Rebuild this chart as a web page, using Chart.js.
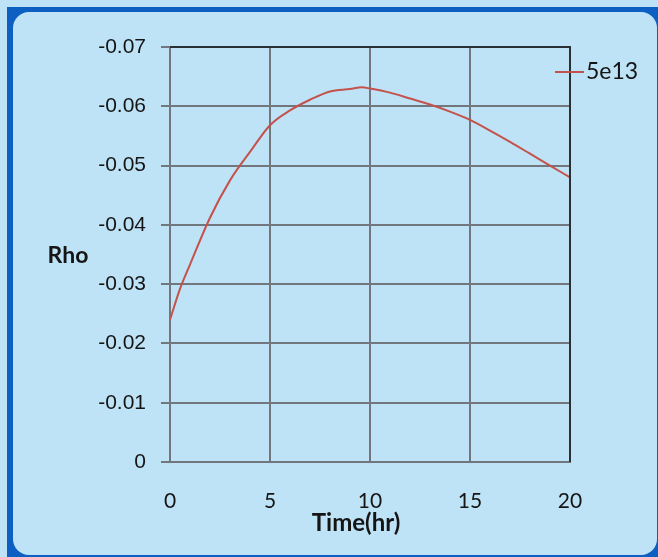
<!DOCTYPE html>
<html>
<head>
<meta charset="utf-8">
<title>Rho vs Time</title>
<script src="https://cdn.jsdelivr.net/npm/chart.js@4/dist/chart.umd.min.js"></script>
<style>
  html, body { margin: 0; padding: 0; }
  body { width: 658px; height: 557px; background: #BFE3F6; position: relative; overflow: hidden; }
  #frame { position: absolute; left: 7px; top: 7px; width: 651px; height: 550px; background: #0D5FC2; }
  #panel { position: absolute; left: 13px; top: 12px; width: 644px; height: 543px; background: #BFE3F6; border-radius: 16px; }
  #chart { position: absolute; left: 0; top: 0; }
</style>
</head>
<body>
<div id="frame"></div>
<div id="panel"></div>
<canvas id="chart" width="658" height="557"></canvas>
<script>
// Series data
const TIME_HR = [0, 0.5, 1, 2, 3, 4, 5, 6, 7, 8, 9, 9.6, 10, 11, 12, 13, 14, 15, 16, 17, 18, 19, 20];
const RHO_5E13 = [-0.0240, -0.0292, -0.0333, -0.0412, -0.0475, -0.0523, -0.0568, -0.0593, -0.0611, -0.0625, -0.0629, -0.0632, -0.0630, -0.0623, -0.0613, -0.0603, -0.0591, -0.0577, -0.0559, -0.0540, -0.0520, -0.0500, -0.0480];
const SERIES_LABEL = '5e13';

// Axis ticks
const X_TICKS = [0, 5, 10, 15, 20];
const Y_TICKS = [-0.07, -0.06, -0.05, -0.04, -0.03, -0.02, -0.01, 0];
const X_TITLE = 'Time(hr)';
const Y_TITLE = 'Rho';

const GRID = '#72777e';
const EDGE = '#2b3035';
const TEXT = '#151515';

// Dark top/right plot edges, horizontal axis titles and the series key
const decorations = {
  id: 'decorations',
  afterDatasetsDraw(chart) {
    const { ctx, chartArea: a } = chart;
    ctx.save();
    ctx.strokeStyle = EDGE;
    ctx.lineWidth = 2;
    ctx.beginPath();
    ctx.moveTo(a.left, a.top);
    ctx.lineTo(a.right, a.top);
    ctx.lineTo(a.right, a.bottom);
    ctx.stroke();
    ctx.restore();
  },
  afterDraw(chart) {
    const { ctx, chartArea: a } = chart;
    ctx.save();
    ctx.fillStyle = TEXT;
    ctx.textBaseline = 'middle';
    ctx.textAlign = 'center';
    ctx.font = 'bold 23px Lato, "Liberation Sans", sans-serif';
    ctx.fillText(Y_TITLE, a.left - 102, (a.top + a.bottom) / 2 + 1);
    ctx.font = 'bold 24px Lato, "Liberation Sans", sans-serif';
    ctx.fillText(X_TITLE, (a.left + a.right) / 2 - 14, a.bottom + 61);

    chart.data.datasets.forEach((ds, i) => {
      const y = a.top + 25 + i * 26;
      const x0 = a.right - 15;
      ctx.strokeStyle = ds.borderColor;
      ctx.lineWidth = 2;
      ctx.beginPath();
      ctx.moveTo(x0, y);
      ctx.lineTo(x0 + 29, y);
      ctx.stroke();
      ctx.textAlign = 'left';
      ctx.font = '23px Lato, "Liberation Sans", sans-serif';
      ctx.fillText(ds.label, x0 + 31, y);
    });
    ctx.restore();
  }
};

new Chart(document.getElementById('chart'), {
  type: 'line',
  data: {
    datasets: [{
      label: SERIES_LABEL,
      data: TIME_HR.map((t, i) => ({ x: t, y: RHO_5E13[i] })),
      borderColor: '#C4524C',
      borderWidth: 2,
      pointRadius: 0,
      cubicInterpolationMode: 'monotone',
      fill: false
    }]
  },
  options: {
    responsive: false,
    animation: false,
    layout: { padding: { left: 0, right: 88, top: 47, bottom: 0 } },
    plugins: { legend: { display: false }, tooltip: { enabled: false } },
    scales: {
      x: {
        type: 'linear',
        min: 0,
        max: 20,
        afterBuildTicks: (s) => { s.ticks = X_TICKS.map(v => ({ value: v })); },
        afterFit: (s) => { s.height = 95; },
        grid: { color: GRID, lineWidth: 2, drawTicks: false },
        border: { color: GRID, width: 2 },
        ticks: { color: TEXT, padding: 27, font: { family: 'Lato', size: 21 }, maxRotation: 0 }
      },
      y: {
        type: 'linear',
        min: -0.07,
        max: 0,
        reverse: true,
        afterBuildTicks: (s) => { s.ticks = Y_TICKS.map(v => ({ value: v })); },
        afterFit: (s) => { s.width = 170; },
        grid: { color: GRID, lineWidth: 2, tickLength: 9 },
        border: { color: GRID, width: 2 },
        ticks: {
          color: TEXT,
          padding: 15,
          font: { family: 'Liberation Sans', size: 21 },
          callback: (v) => (Math.abs(v) < 1e-9 ? '0' : Number(v).toFixed(2))
        }
      }
    }
  },
  plugins: [decorations]
});
</script>
</body>
</html>
